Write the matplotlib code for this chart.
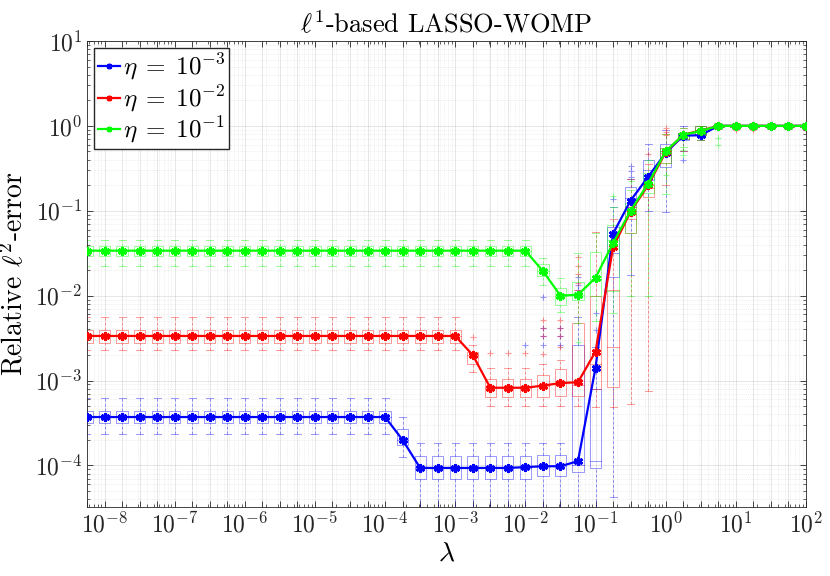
"""Relative error vs lambda for l1-based LASSO-WOMP, boxplots with mean lines."""

import matplotlib

matplotlib.use("Agg")
import matplotlib.pyplot as plt
import numpy as np
from matplotlib.ticker import FixedFormatter, FixedLocator, FuncFormatter, LogLocator, NullFormatter

plt.rcParams["font.family"] = ["cmr10"]
plt.rcParams["mathtext.fontset"] = "cm"
plt.rcParams["axes.formatter.use_mathtext"] = True

# lambda grid: four values per decade, 10^-8.25 ... 10^2
lam = np.logspace(-8.25, 2, 42)
eta_labels = [r"$\eta\;=\;10^{-3}$", r"$\eta\;=\;10^{-2}$", r"$\eta\;=\;10^{-1}$"]

# all error values below are log10 of the relative l2-error
# mean curves
blue_mean = [-3.43] * 18 + [-3.70] + [-4.03] * 6 + [
    -4.02, -4.01, -4.01, -3.95, -2.85, -1.27, -0.88, -0.60, -0.32, -0.115, -0.11] + [0.0] * 6
red_mean = [-2.475] * 22 + [
    -2.70, -3.085, -3.085, -3.085, -3.06, -3.03, -3.02, -2.66, -1.43, -1.01, -0.70, -0.31,
    -0.105, -0.055] + [0.0] * 6
green_mean = [-1.47] * 26 + [
    -1.71, -2.0, -1.99, -1.79, -1.38, -1.0, -0.68, -0.30, -0.106, -0.06] + [0.0] * 6

# box statistics (median, quartiles, whisker ends)
blue_med = [-3.43] * 18 + [-3.70] + [-4.03] * 7 + [
    -4.01, -4.01, -4.0, -3.95, -1.5, -0.85, -0.52, -0.30, -0.10, -0.05] + [0.0] * 6
blue_q1 = [-3.50] * 18 + [-3.76] + [-4.16] * 7 + [
    -4.13, -4.13, -4.08, -4.03, -1.78, -0.95, -0.64, -0.48, -0.166, -0.107] + [-0.01] * 6
blue_q3 = [-3.355] * 18 + [-3.57] + [-3.89] * 7 + [
    -3.876, -3.876, -2.58, -3.10, -1.19, -0.716, -0.40, -0.217, -0.08, 0.0] + [0.005] * 6
blue_lo = [-3.63] * 18 + [-3.90] + [-4.6] * 7 + [
    -4.6, -4.6, -4.6, -4.6, -4.37, -1.76, -1.0, -1.01, -0.30, -0.17] + [-0.02] * 6
blue_hi = [-3.20] * 18 + [-3.425] + [-3.74] * 7 + [
    -3.74, -3.74, -2.25, -2.6, -0.95, -0.62, -0.217, -0.05, 0.0, 0.0] + [0.01] * 6

red_med = [-2.475] * 22 + [
    -2.70, -3.087, -3.087, -3.087, -3.06, -3.03, -3.05, -2.8, -2.6, -1.1, -0.73, -0.32,
    -0.10, -0.05] + [0.0] * 6
red_q1 = [-2.554] * 22 + [
    -2.80, -3.19, -3.19, -3.19, -3.19, -3.18, -3.18, -3.10, -3.08, -1.265, -0.84, -0.44,
    -0.16, -0.107] + [-0.01] * 6
red_q3 = [-2.404] * 22 + [
    -2.66, -2.98, -2.98, -2.98, -2.934, -2.867, -2.325, -2.01, -1.93, -0.95, -0.70, -0.26,
    -0.08, 0.0] + [0.005] * 6
red_lo = [-2.64] * 22 + [
    -2.895, -3.30, -3.30, -3.30, -3.30, -3.30, -3.30, -3.31, -3.31, -3.28, -3.12, -0.7,
    -0.30, -0.17] + [-0.02] * 6
red_hi = [-2.254] * 22 + [
    -2.58, -2.85, -2.85, -2.85, -2.80, -2.76, -1.93, -1.25, -1.1, -0.62, -0.45, -0.1,
    -0.02, 0.0] + [0.01] * 6

green_med = [-1.47] * 26 + [
    -1.71, -2.0, -1.99, -1.8, -1.35, -1.0, -0.68, -0.30, -0.10, -0.05] + [0.0] * 6
green_q1 = [-1.53] * 26 + [
    -1.77, -2.11, -2.05, -2.01, -1.94, -1.26, -0.79, -0.44, -0.16, -0.107] + [-0.01] * 6
green_q3 = [-1.42] * 26 + [
    -1.63, -1.91, -1.835, -1.49, -1.167, -0.91, -0.555, -0.26, -0.08, 0.0] + [0.005] * 6
green_lo = [-1.65] * 26 + [
    -1.874, -2.19, -2.32, -2.3, -2.2, -2.01, -2.01, -0.8, -0.25, -0.166] + [-0.02] * 6
green_hi = [-1.34] * 26 + [
    -1.56, -1.795, -1.50, -1.26, -0.95, -0.75, -0.4, -0.1, -0.02, 0.0] + [0.01] * 6

# outliers, keyed by lambda index
blue_fliers = {25: [-2.58], 26: [-2.02, -2.38, -2.48, -2.58], 27: [-2.38, -2.48, -2.58],
               28: [-1.78, -1.87, -1.93, -2.0], 29: [-2.2, -2.4], 30: [-0.865],
               31: [-0.47, -0.53, -0.60], 34: [-0.40]}
red_fliers = {22: [-2.483], 23: [-2.68], 24: [-2.68], 25: [-2.68],
              26: [-2.29, -2.38, -2.48, -2.69], 27: [-2.29, -2.38, -2.48, -2.6],
              28: [-1.55, -1.65, -1.75, -1.85], 32: [-0.33], 33: [-0.03, -0.07, -0.11],
              37: [-0.05], 38: [-0.05], 41: [-0.05]}
green_fliers = {28: [-2.55], 30: [-0.83], 31: [-0.65], 33: [-0.58], 34: [-0.28, -0.34],
                36: [-0.14, -0.225]}

BOX_HALF = 0.08   # decades
CAP_HALF = 0.05
BOX_ALPHA = 0.4


def draw_boxes(ax, color, med, q1, q3, lo, hi, fliers):
    med, q1, q3, lo, hi = (10.0 ** np.asarray(v) for v in (med, q1, q3, lo, hi))
    kw = dict(color=color, alpha=BOX_ALPHA, lw=0.7, zorder=2)
    for k, x in enumerate(lam):
        xl, xr = x * 10 ** -BOX_HALF, x * 10 ** BOX_HALF
        cl, cr = x * 10 ** -CAP_HALF, x * 10 ** CAP_HALF
        ax.plot([xl, xr, xr, xl, xl], [q1[k], q1[k], q3[k], q3[k], q1[k]], **kw)
        ax.plot([xl, xr], [med[k], med[k]], **kw)
        ax.plot([x, x], [q3[k], hi[k]], ls=(0, (3, 2)), **kw)
        ax.plot([x, x], [lo[k], q1[k]], ls=(0, (3, 2)), **kw)
        ax.plot([cl, cr], [hi[k], hi[k]], **kw)
        ax.plot([cl, cr], [lo[k], lo[k]], **kw)
    for k, vals in fliers.items():
        ax.plot([lam[k]] * len(vals), 10.0 ** np.asarray(vals), "+", color=color,
                alpha=BOX_ALPHA, ms=5, mew=0.8, zorder=2)


def main() -> None:
    fig, ax = plt.subplots(figsize=(8.3, 5.76), dpi=100)
    fig.subplots_adjust(left=0.1048, right=0.971, bottom=0.1198, top=0.9288)

    ax.set_xscale("log")
    ax.set_yscale("log")

    draw_boxes(ax, "blue", blue_med, blue_q1, blue_q3, blue_lo, blue_hi, blue_fliers)
    draw_boxes(ax, "red", red_med, red_q1, red_q3, red_lo, red_hi, red_fliers)
    draw_boxes(ax, (0, 1, 0), green_med, green_q1, green_q3, green_lo, green_hi, green_fliers)

    line_kw = dict(marker=(6, 2, 0), ms=6.5, mew=2, lw=1.6, zorder=4)
    handles = []
    for vals, color, label in zip([blue_mean, red_mean, green_mean],
                                  ["blue", "red", (0, 1, 0)], eta_labels):
        (h,) = ax.plot(lam, 10.0 ** np.asarray(vals), color=color, label=label, **line_kw)
        handles.append(h)

    ax.set_xlim(lam[0], lam[-1])
    ax.set_ylim(10 ** -4.49, 10)

    exps = np.log10(lam)
    xlabels = [f"$10^{{{int(round(e))}}}$" if abs(e - round(e)) < 1e-6 else "" for e in exps]
    ax.xaxis.set_major_locator(FixedLocator(lam))
    ax.xaxis.set_major_formatter(FixedFormatter(xlabels))
    ax.xaxis.set_minor_locator(LogLocator(base=10, subs=np.arange(2, 10), numticks=100))
    ax.xaxis.set_minor_formatter(NullFormatter())
    ax.yaxis.set_major_locator(LogLocator(base=10, numticks=20))
    ax.yaxis.set_major_formatter(FuncFormatter(lambda v, _: f"$10^{{{int(round(np.log10(v)))}}}$"))
    ax.yaxis.set_minor_locator(LogLocator(base=10, subs=np.arange(2, 10), numticks=100))
    ax.yaxis.set_minor_formatter(NullFormatter())

    ax.grid(True, which="major", color="0.15", alpha=0.13, lw=0.6)
    ax.grid(True, which="minor", color="0.15", alpha=0.13, lw=0.5, ls=":")
    ax.set_axisbelow(True)
    ax.tick_params(which="both", direction="in", top=True, right=True,
                   colors="0.15", labelsize=17)
    ax.tick_params(which="major", length=4, width=0.6)
    ax.tick_params(which="minor", length=2.5, width=0.5)
    for sp in ax.spines.values():
        sp.set_color("0.15")
        sp.set_linewidth(0.6)

    ax.set_title(r"$\ell^1$-based LASSO-WOMP", fontsize=19, pad=6)
    ax.set_xlabel(r"$\lambda$", fontsize=20, labelpad=2)
    ax.set_ylabel(r"Relative $\ell^2$-error", fontsize=20)

    ax.legend(handles=handles, loc="upper left", bbox_to_anchor=(0.0097, 0.985),
              borderaxespad=0, fontsize=18, handlelength=0.9, handletextpad=0.1,
              labelspacing=0.05, borderpad=0.15, fancybox=False, framealpha=1,
              edgecolor="0.15", markerscale=0.6)

    fig.savefig("out.png", dpi=100)
    plt.close(fig)


if __name__ == "__main__":
    main()
